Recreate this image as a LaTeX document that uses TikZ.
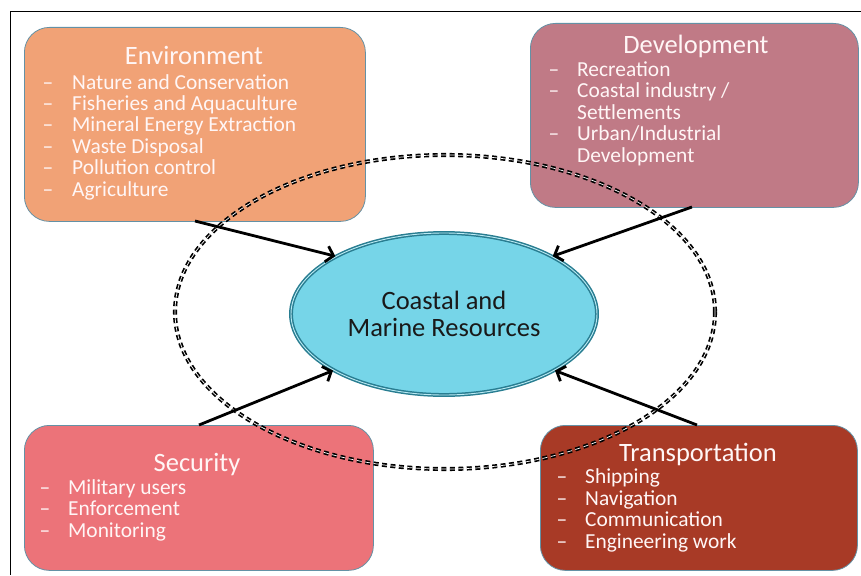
\documentclass[tikz,border=0pt]{standalone}
\usepackage{fontspec}
\setmainfont{Carlito}
\usetikzlibrary{arrows.meta,shapes.geometric}
\definecolor{envc}{RGB}{241,162,118}
\definecolor{devc}{RGB}{192,122,134}
\definecolor{secc}{RGB}{236,115,121}
\definecolor{trac}{RGB}{168,58,38}
\definecolor{resc}{RGB}{118,213,232}
\definecolor{resb}{RGB}{40,125,145}
\definecolor{boxb}{RGB}{100,145,165}
\definecolor{txtc}{RGB}{255,246,246}
\tikzset{
  topicbox/.style={draw=boxb, line width=0.8pt, rounded corners=25pt, inner sep=0pt, anchor=north west},
  header/.style={text=txtc, font=\fontsize{26.5}{26.5}\selectfont, anchor=base, inner sep=0pt},
  items/.style={text=txtc, font=\fontsize{21.4}{21.4}\selectfont, align=left, anchor=base west, inner sep=0pt},
  arr/.style={draw=black, line width=2.8pt, -{Straight Barb[length=7pt,width=16pt,line width=2.8pt]}},
  outerring/.style={draw=black, line width=1.7pt, double=white, double distance=0.7pt, dash pattern=on 5pt off 3.5pt},
}
\newcommand{\dsh}[1]{\makebox[#1][l]{\hspace{0.5pt}--}}
\begin{document}
\begin{tikzpicture}[x=1pt,y=-1pt]
\useasboundingbox (0,0) rectangle (861,575);
% frame
\draw[line width=0.9pt] (861,11) -- (10,11) -- (10,575);
% boxes
\node[topicbox, fill=envc, minimum width=341pt, minimum height=194pt] (env) at (24,27) {};
\node[topicbox, fill=devc, minimum width=328pt, minimum height=184pt] (dev) at (530,23) {};
\node[topicbox, fill=secc, minimum width=349pt, minimum height=145pt] (sec) at (24,425) {};
\node[topicbox, fill=trac, minimum width=317pt, minimum height=145pt] (tra) at (540,425) {};
% texts (base anchor = last line)
\node[header] (envh) at (194,65) {Environment};
\node[items] (envi) at (42,196) {\dsh{30pt}Nature and Conservation\\\dsh{30pt}Fisheries and Aquaculture\\\dsh{30pt}Mineral Energy Extraction\\\dsh{30pt}Waste Disposal\\\dsh{30pt}Pollution control\\\dsh{30pt}Agriculture};
\node[header] (devh) at (696,54) {Development};
\node[items] (devi) at (548,162) {\dsh{29pt}Recreation\\\dsh{29pt}Coastal industry /\\\hspace*{29pt}Settlements\\\dsh{29pt}Urban/Industrial\\\hspace*{29pt}Development};
\node[header] (sech) at (197,471) {Security};
\node[items] (seci) at (39,537) {\dsh{29pt}Military users\\\dsh{29pt}Enforcement\\\dsh{29pt}Monitoring};
\node[header] (trah) at (698,461) {Transportation};
\node[items] (trai) at (556,548) {\dsh{29pt}Shipping\\\dsh{29pt}Navigation\\\dsh{29pt}Communication\\\dsh{29pt}Engineering work};
% central ellipse
\node[ellipse, draw=resb, line width=1.5pt, double=resc!50!white, double distance=0.9pt, fill=resc,
      minimum width=306pt, minimum height=162pt, inner sep=0pt, align=center,
      font=\fontsize{26.5}{26.5}\selectfont, text=black!90] (res) at (444,314) {Coastal and\\Marine Resources};
% dashed ring
\draw[outerring] (445,312) ellipse [x radius=270, y radius=157];
% arrow start points
\coordinate (envA) at (195,221);
\coordinate (devA) at (692,207);
\coordinate (secA) at (199,425);
\coordinate (traA) at (697,425);
\draw[arr] (envA) -- (res.152);
\draw[arr] (devA) -- (res.28);
\draw[arr] (secA) -- (res.207);
\draw[arr] (traA) -- (res.333);
\end{tikzpicture}
\end{document}
